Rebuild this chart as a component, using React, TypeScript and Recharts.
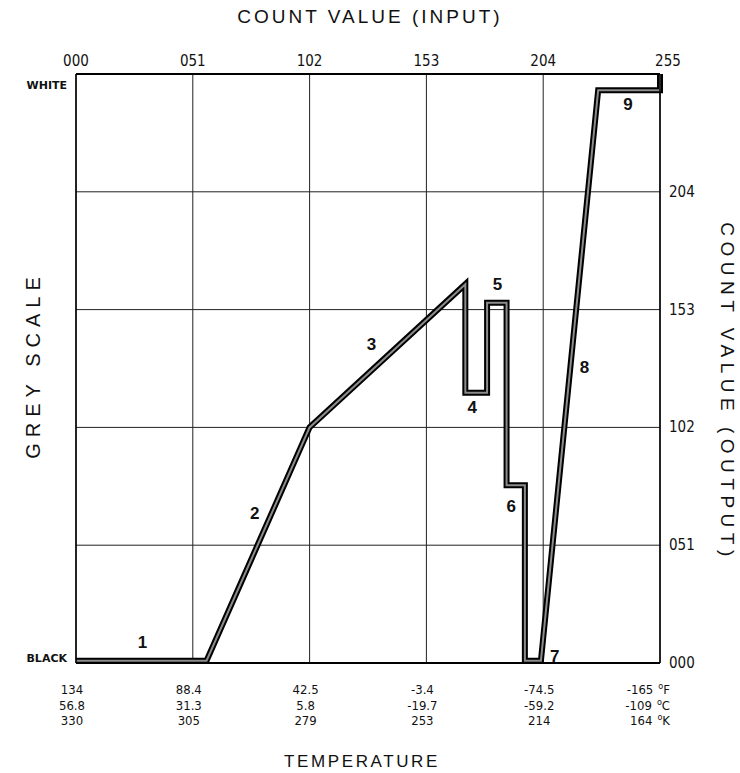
import { ComposedChart, Line, Scatter, XAxis, YAxis, CartesianGrid } from 'recharts';

// axis ticks
const countTicks = [0, 51, 102, 153, 204, 255];
const outputTicks = [0, 51, 102, 153, 204];
const greyTicks = [0, 255];
const greyLabels = ['BLACK', 'WHITE'];

// temperature scale under the input counts
const tempF = ['134', '88.4', '42.5', '-3.4', '-74.5', '-165'];
const tempC = ['56.8', '31.3', '5.8', '-19.7', '-59.2', '-109'];
const tempK = ['330', '305', '279', '253', '214', '164'];
const tempUnits = ['F', 'C', 'K'];

// enhancement curve, input count -> output count
const inputCounts = [0, 57, 102, 170, 170, 179.5, 179.5, 188, 188, 196, 196, 203, 228, 255, 255];
const outputCounts = [1, 1, 102, 164, 117, 117, 156, 156, 77, 77, 1, 1, 248, 248, 255];

// segment numbers written next to the curve
const segmentNames = ['1', '2', '3', '4', '5', '6', '7', '8', '9'];
const segmentLabelX = [29, 78, 129, 173, 184, 190, 209, 222, 241];
const segmentLabelY = [9, 65, 138, 111, 164, 68, 3, 128, 242];

const curve = inputCounts.map((x, i) => ({ x, y: outputCounts[i] }));
const segmentLabels = segmentNames.map((n, i) => ({ x: segmentLabelX[i], y: segmentLabelY[i], n }));

const NARROW = "'Liberation Sans Narrow', 'DejaVu Sans Condensed', 'Liberation Sans', sans-serif";
const TITLE = "'Liberation Sans', Arial, sans-serif";

const pad = (v: number) => String(v).padStart(3, '0');

const TopTick = (props: any) => {
  const { x, y, payload, index } = props;
  return (
    <text x={x + (index === 5 ? 8 : 0)} y={y - 8} textAnchor="middle" fontSize={15} fontFamily={NARROW} fill="#111">
      {pad(payload.value)}
    </text>
  );
};

const RightTick = (props: any) => {
  const { x, y, payload } = props;
  return (
    <text x={x + 9} y={y + 5} textAnchor="start" fontSize={15} fontFamily={NARROW} fill="#111">
      {pad(payload.value)}
    </text>
  );
};

const LeftTick = (props: any) => {
  const { x, y, index } = props;
  return (
    <text x={x - 9} y={index === 0 ? y - 1 : y + 15} textAnchor="end" fontSize={11} fontWeight="bold"
      fontFamily="'DejaVu Sans', sans-serif" fill="#111">
      {greyLabels[index]}
    </text>
  );
};

const BottomTick = (props: any) => {
  const { x, y, index } = props;
  const last = index === countTicks.length - 1;
  const rows = [tempF, tempC, tempK];
  return (
    <g>
      {rows.map((row, r) => (
        <text key={r} x={last ? x + 10 : x - 4} y={y + 31 + r * 15.5} textAnchor={last ? 'end' : 'middle'}
          fontSize={13} fontFamily={NARROW} fill="#111">
          {row[index]}
          {last && (
            <>
              <tspan dx={5} dy={-5} fontSize={9}>o</tspan>
              <tspan dy={5}>{tempUnits[r]}</tspan>
            </>
          )}
        </text>
      ))}
    </g>
  );
};

const SegmentLabel = (props: any) => (
  <text x={props.cx} y={props.cy + 6} textAnchor="middle" fontSize={17} fontWeight="bold" fontFamily={TITLE} fill="#111">
    {props.payload.n}
  </text>
);

const title = { position: 'absolute' as const, fontFamily: TITLE, color: '#111', whiteSpace: 'nowrap' as const, lineHeight: '20px' };

export default function App() {
  return (
    <div style={{ position: 'absolute', left: 0, top: 0, width: 740, height: 773, background: '#fff' }}>
      <ComposedChart width={740} height={773} margin={{ top: 0, right: 0, bottom: 0, left: 0 }}>
        <CartesianGrid stroke="#222" strokeWidth={1} />
        <XAxis xAxisId={0} dataKey="x" type="number" domain={[0, 255]} ticks={countTicks} height={110}
          axisLine={{ stroke: '#000', strokeWidth: 2 }} tickLine={false} tickSize={0} tickMargin={0} tick={<BottomTick />} interval={0} />
        <XAxis xAxisId="top" orientation="top" dataKey="x" type="number" domain={[0, 255]} ticks={countTicks} height={74}
          axisLine={{ stroke: '#000', strokeWidth: 2 }} tickLine={false} tickSize={0} tickMargin={0} tick={<TopTick />} interval={0} />
        <YAxis yAxisId={0} orientation="right" type="number" domain={[0, 255]} ticks={outputTicks} width={80}
          axisLine={{ stroke: '#000', strokeWidth: 1.5 }} tickLine={false} tickSize={0} tickMargin={0} tick={<RightTick />} interval={0} />
        <YAxis yAxisId="left" orientation="left" type="number" domain={[0, 255]} ticks={greyTicks} width={76}
          axisLine={{ stroke: '#000', strokeWidth: 1.5 }} tickLine={false} tickSize={0} tickMargin={0} tick={<LeftTick />} interval={0} />
        {/* invisible copy so the top and left axes have a series and draw their ticks */}
        <Line data={curve} dataKey="y" xAxisId="top" yAxisId="left" stroke="none" dot={false} activeDot={false}
          isAnimationActive={false} />
        <Line data={curve} dataKey="y" type="linear" stroke="#000" strokeWidth={6} strokeLinejoin="miter"
          dot={false} activeDot={false} isAnimationActive={false} />
        <Line data={curve} dataKey="y" type="linear" stroke="#8c8c8c" strokeWidth={2} strokeLinejoin="miter"
          dot={false} activeDot={false} isAnimationActive={false} />
        <Scatter data={segmentLabels} dataKey="y" shape={<SegmentLabel />} isAnimationActive={false} />
      </ComposedChart>

      <div style={{ ...title, left: 0, width: 740, top: 7, textAlign: 'center', fontSize: 19, letterSpacing: 3 }}>
        COUNT VALUE (INPUT)
      </div>
      <div style={{ ...title, left: 33, top: 365, fontSize: 20, letterSpacing: 6, transform: 'translate(-50%, -50%) rotate(-90deg)' }}>
        GREY SCALE
      </div>
      <div style={{ ...title, left: 727, top: 392, fontSize: 19, letterSpacing: 5.5, transform: 'translate(-50%, -50%) rotate(90deg)' }}>
        COUNT VALUE (OUTPUT)
      </div>
      <div style={{ ...title, left: 362, top: 762, fontSize: 17, letterSpacing: 2.6, transform: 'translate(-50%, -50%)' }}>
        TEMPERATURE
      </div>
    </div>
  );
}
